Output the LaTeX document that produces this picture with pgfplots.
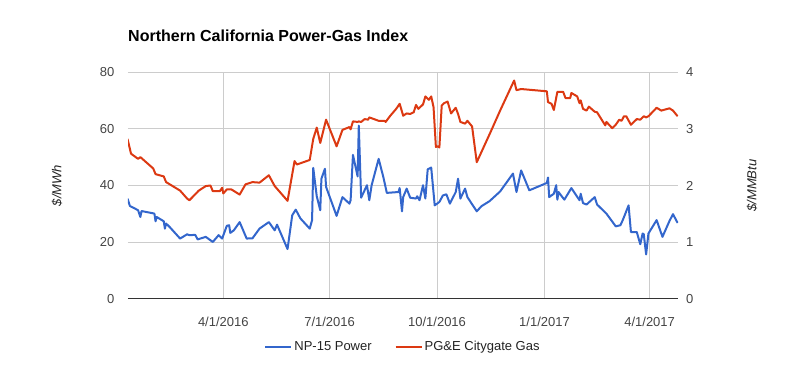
\documentclass[border=0pt]{standalone}
\usepackage{pgfplots}
\pgfplotsset{compat=1.18}
\usepackage{fontspec}
\setmainfont{Liberation Sans}
\definecolor{gblue}{HTML}{3366CC}
\definecolor{gred}{HTML}{DC3912}
\definecolor{ggrid}{HTML}{CCCCCC}
\definecolor{gtick}{HTML}{444444}
\definecolor{gbase}{HTML}{333333}
\definecolor{gtext}{HTML}{222222}
\newcommand{\tk}{\fontsize{13}{15}\selectfont}

\pgfplotstableread{
day val
9 35.4
11 32.8
18 31.3
20 28.9
21 31.0
32 30.1
33 27.4
34 28.9
40 27.4
41 24.8
42 26.6
45 25.4
54 21.3
60 22.8
62 22.5
67 22.6
69 21.0
76 21.9
82 20.1
87 22.5
90 21.3
94 25.8
96 26.0
97 23.3
100 24.2
105 27.1
111 21.3
116 21.4
122 24.8
130 27.1
135 24.2
137 26.2
146 17.6
150 29.5
153 31.5
157 28.4
165 24.8
167 27.8
168 46.2
171 36.2
174 31.3
175 42.4
178 45.9
179 39.5
188 29.3
193 35.9
199 33.6
200 34.8
202 50.8
206 43.2
207 61.1
209 35.7
214 40.1
216 34.8
218 40.1
224 49.4
228 43.0
231 37.4
241 37.7
242 39.1
244 30.9
245 35.9
248 38.9
251 35.7
256 35.4
257 36.2
259 34.8
262 40.1
264 35.4
266 45.7
269 46.3
272 33.0
276 34.2
279 36.5
282 36.9
285 33.6
290 37.7
292 42.4
294 35.4
298 38.9
300 35.9
308 30.9
312 32.7
319 34.5
328 37.9
339 44.2
342 37.7
346 45.3
353 38.3
368 40.9
369 42.8
370 35.9
374 37.1
376 40.1
377 35.0
378 37.7
383 35.0
389 39.1
396 34.8
397 37.1
399 33.8
402 33.3
409 35.9
411 33.3
419 30.1
427 25.6
431 26.0
433 27.8
438 33.0
440 23.6
445 23.6
448 19.3
450 23.1
451 22.8
453 15.7
455 23.1
462 27.8
467 21.9
473 27.5
476 29.9
480 26.8
}\powertable

\pgfplotstableread{
day val
9 2.82
12 2.56
18 2.47
20 2.50
31 2.30
33 2.20
40 2.16
42 2.06
54 1.91
60 1.77
62 1.74
70 1.91
76 1.99
80 2.00
82 1.90
88 1.90
90 1.96
91 1.86
94 1.93
98 1.93
105 1.84
110 2.02
116 2.06
122 2.05
130 2.18
135 1.99
146 1.73
152 2.43
154 2.37
165 2.45
168 2.82
171 3.02
174 2.75
179 3.16
188 2.69
193 2.98
199 3.03
200 2.99
202 3.13
206 3.12
207 3.13
209 3.12
212 3.17
215 3.16
216 3.20
224 3.14
229 3.14
230 3.12
234 3.23
239 3.35
242 3.44
245 3.23
248 3.27
251 3.26
254 3.29
256 3.42
258 3.35
262 3.43
264 3.57
267 3.51
269 3.57
271 3.38
273 2.68
275 2.69
276 2.67
278 3.41
280 3.45
283 3.48
286 3.27
290 3.37
292 3.26
294 3.12
298 3.09
300 3.14
304 3.04
308 2.41
320 2.95
328 3.32
340 3.85
342 3.68
346 3.70
368 3.66
369 3.47
372 3.44
374 3.33
377 3.65
382 3.65
384 3.54
388 3.54
389 3.63
394 3.57
396 3.45
397 3.50
399 3.35
402 3.32
404 3.39
409 3.30
411 3.29
418 3.06
419 3.12
424 3.01
427 3.07
430 3.16
432 3.14
434 3.22
436 3.22
440 3.07
445 3.17
448 3.16
451 3.22
453 3.20
455 3.22
462 3.37
466 3.32
473 3.36
476 3.32
480 3.22
}\gastable

\begin{document}
\begin{tikzpicture}
\path[use as bounding box] (-128pt,-72pt) rectangle (677pt,299pt);
\begin{axis}[
  at={(0pt,0pt)}, anchor=south west,
  scale only axis, width=550pt, height=227pt,
  xmin=9.4, xmax=480.3, ymin=0, ymax=80,
  xtick={91,182,274,366,456},
  xticklabels={4/1/2016,7/1/2016,10/1/2016,1/1/2017,4/1/2017},
  ytick={20,40,60,80},
  extra y ticks={0},
  extra y tick style={grid=major, major grid style={draw=gbase, line width=1pt}},
  grid=major, major grid style={draw=ggrid, line width=1pt},
  axis line style={draw=none},
  tick style={draw=none},
  /pgf/number format/assume math mode=true,
  ticklabel style={font=\tk, text=gtick, inner sep=0pt},
  xticklabel style={anchor=base, yshift=-27.7pt},
  yticklabel style={anchor=east, xshift=-13.5pt},
  title={\fontsize{16}{18}\selectfont\bfseries Northern California Power-Gas Index},
  title style={at={(0,1)}, anchor=base west, yshift=25pt, inner sep=0pt},
  every axis y label/.style={at={(axis description cs:-0.129,0.5)}, rotate=90, anchor=center},
  ylabel={\tk\itshape\color{gtext}\$/MWh},
  legend style={at={(0.5,-0.2115)}, anchor=center, draw=none, fill=none,
    legend columns=2, font=\tk, text=gtext,
    /tikz/every even column/.append style={column sep=21pt}},
  legend image code/.code={\draw[#1, line width=2pt] (0pt,0pt) -- (26pt,0pt);},
]
\addplot[gblue, line width=2pt, line join=round, no markers] table[x=day, y=val] {\powertable};
\addlegendentry{NP-15 Power}
\addlegendimage{gred, line width=2pt}
\addlegendentry{PG\&E Citygate Gas}
\end{axis}
\begin{axis}[
  at={(0pt,0pt)}, anchor=south west,
  scale only axis, width=550pt, height=227pt,
  xmin=9.4, xmax=480.3, ymin=0, ymax=4,
  hide x axis,
  axis line style={draw=none}, tick style={draw=none},
  ytick={0,1,2,3,4},
  yticklabel pos=right,
  /pgf/number format/assume math mode=true,
  yticklabel style={font=\tk, text=gtick, inner sep=0pt, anchor=west, xshift=8pt},
  every axis y label/.style={at={(axis description cs:1.1345,0.5)}, rotate=90, anchor=center},
  ylabel={\tk\itshape\color{gtext}\$/MMBtu},
]
\addplot[gred, line width=2pt, line join=round, no markers] table[x=day, y=val] {\gastable};
\end{axis}
\end{tikzpicture}
\end{document}
